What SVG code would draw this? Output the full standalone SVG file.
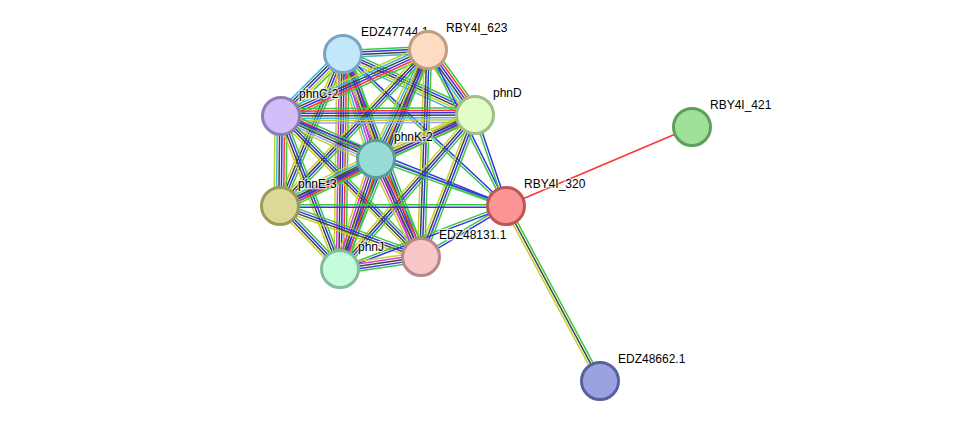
<svg xmlns="http://www.w3.org/2000/svg" width="976" height="427" viewBox="0 0 976 427">
<style>
#edges path{fill:none;stroke-width:1.5}
.g{stroke:#3cc83c}.b{stroke:#3434ea}.k{stroke:#444}.y{stroke:#c4d22e}.r{stroke:#ff3535}.m{stroke:#d63ad6}.c{stroke:#3ab8d8}.l{stroke:#a0a0ff}
.n circle{stroke-width:3}
.n text{font-family:"Liberation Sans",Arial,sans-serif;font-size:12px;fill:#000;stroke:#fff;stroke-width:2.5;stroke-opacity:0.7;paint-order:stroke}
</style>
<rect width="976" height="427" fill="#fff"/>
<g id="edges">
<!-- A-B -->
<g transform="translate(343 54) rotate(-2.69)"><path class="g" d="M0-3.6H85"/><path class="b" d="M0-1.2H85"/><path class="k" d="M0 1.2H85"/><path class="c" d="M0 3.6H85"/></g>
<!-- A-C -->
<g transform="translate(343 54) rotate(135)"><path class="g" d="M0-4.8H88"/><path class="y" d="M0-2.4H88"/><path class="b" d="M0 0H88"/><path class="k" d="M0 2.4H88"/><path class="c" d="M0 4.8H88"/></g>
<!-- A-D -->
<g transform="translate(343 54) rotate(24.8)"><path class="g" d="M0-4.8H145"/><path class="b" d="M0-2.4H145"/><path class="k" d="M0 0H145"/><path class="y" d="M0 2.4H145"/><path class="c" d="M0 4.8H145"/></g>
<!-- A-K -->
<g transform="translate(343 54) rotate(72.55)"><path class="g" d="M0-7.2H110"/><path class="r" d="M0-4.8H110"/><path class="b" d="M0-2.4H110"/><path class="k" d="M0 0H110"/><path class="m" d="M0 2.4H110"/><path class="c" d="M0 4.8H110"/><path class="y" d="M0 7.2H110"/></g>
<!-- A-E -->
<g transform="translate(343 54) rotate(112.51)"><path class="g" d="M0-3.6H164"/><path class="b" d="M0-1.2H164"/><path class="k" d="M0 1.2H164"/><path class="y" d="M0 3.6H164"/></g>
<!-- A-R -->
<g transform="translate(343 54) rotate(43)"><path class="b" d="M0-1.2H223"/><path class="g" d="M0 1.2H223"/></g>
<!-- A-X -->
<g transform="translate(343 54) rotate(68.98)"><path class="g" d="M0-4.8H217"/><path class="b" d="M0-2.4H217"/><path class="k" d="M0 0H217"/><path class="y" d="M0 2.4H217"/><path class="m" d="M0 4.8H217"/></g>
<!-- A-J -->
<g transform="translate(343 54) rotate(90.8)"><path class="g" d="M0-6H215"/><path class="r" d="M0-3.6H215"/><path class="b" d="M0-1.2H215"/><path class="k" d="M0 1.2H215"/><path class="m" d="M0 3.6H215"/><path class="y" d="M0 6H215"/></g>
<!-- B-C -->
<g transform="translate(428 50) rotate(155.82)"><path class="g" d="M0-6H161"/><path class="r" d="M0-3.6H161"/><path class="b" d="M0-1.2H161"/><path class="k" d="M0 1.2H161"/><path class="c" d="M0 3.6H161"/><path class="y" d="M0 6H161"/></g>
<!-- B-D -->
<g transform="translate(428 50) rotate(54.13)"><path class="g" d="M0-6H80"/><path class="r" d="M0-3.6H80"/><path class="b" d="M0-1.2H80"/><path class="k" d="M0 1.2H80"/><path class="c" d="M0 3.6H80"/><path class="y" d="M0 6H80"/></g>
<!-- B-K -->
<g transform="translate(428 50) rotate(115.5)"><path class="g" d="M0-6H121"/><path class="r" d="M0-3.6H121"/><path class="b" d="M0-1.2H121"/><path class="k" d="M0 1.2H121"/><path class="c" d="M0 3.6H121"/><path class="y" d="M0 6H121"/></g>
<!-- B-E -->
<g transform="translate(428 50) rotate(133.5)"><path class="g" d="M0-3.6H215"/><path class="b" d="M0-1.2H215"/><path class="k" d="M0 1.2H215"/><path class="y" d="M0 3.6H215"/></g>
<!-- B-R -->
<g transform="translate(428 50) rotate(63.43)"><path class="b" d="M0-1.2H174"/><path class="g" d="M0 1.2H174"/></g>
<!-- B-X -->
<g transform="translate(428 50) rotate(91.94)"><path class="g" d="M0-3.6H207"/><path class="b" d="M0-1.2H207"/><path class="k" d="M0 1.2H207"/><path class="y" d="M0 3.6H207"/></g>
<!-- B-J -->
<g transform="translate(428 50) rotate(111.9)"><path class="g" d="M0-3.6H236"/><path class="b" d="M0-1.2H236"/><path class="k" d="M0 1.2H236"/><path class="y" d="M0 3.6H236"/></g>
<!-- C-D -->
<g transform="translate(281 116) rotate(-0.3)"><path class="g" d="M0-7.2H194"/><path class="r" d="M0-4.8H194"/><path class="b" d="M0-2.4H194"/><path class="k" d="M0 0H194"/><path class="c" d="M0 2.4H194"/><path class="y" d="M0 4.8H194"/><path class="l" d="M0 7.2H194"/></g>
<!-- C-K -->
<g transform="translate(281 116) rotate(24.35)"><path class="g" d="M0-6H104"/><path class="r" d="M0-3.6H104"/><path class="b" d="M0-1.2H104"/><path class="k" d="M0 1.2H104"/><path class="l" d="M0 3.6H104"/><path class="y" d="M0 6H104"/></g>
<!-- C-E -->
<g transform="translate(281 116) rotate(90.64)"><path class="g" d="M0-6H90"/><path class="r" d="M0-3.6H90"/><path class="b" d="M0-1.2H90"/><path class="k" d="M0 1.2H90"/><path class="c" d="M0 3.6H90"/><path class="y" d="M0 6H90"/></g>
<!-- C-R -->
<g transform="translate(281 116) rotate(21.8)"><path class="b" d="M0-1.2H242"/><path class="g" d="M0 1.2H242"/></g>
<!-- C-X -->
<g transform="translate(281 116) rotate(45.2)"><path class="g" d="M0-3.6H199"/><path class="b" d="M0-1.2H199"/><path class="k" d="M0 1.2H199"/><path class="y" d="M0 3.6H199"/></g>
<!-- C-J -->
<g transform="translate(281 116) rotate(68.91)"><path class="g" d="M0-3.6H164"/><path class="b" d="M0-1.2H164"/><path class="k" d="M0 1.2H164"/><path class="y" d="M0 3.6H164"/></g>
<!-- D-K -->
<g transform="translate(475 115) rotate(156.04)"><path class="g" d="M0-4.8H108"/><path class="r" d="M0-2.4H108"/><path class="b" d="M0 0H108"/><path class="k" d="M0 2.4H108"/><path class="y" d="M0 4.8H108"/></g>
<!-- D-E -->
<g transform="translate(475 115) rotate(154.98)"><path class="g" d="M0-3.6H215"/><path class="b" d="M0-1.2H215"/><path class="k" d="M0 1.2H215"/><path class="y" d="M0 3.6H215"/></g>
<!-- D-R -->
<g transform="translate(475 115) rotate(71.19)"><path class="b" d="M0-1.2H96"/><path class="g" d="M0 1.2H96"/></g>
<!-- D-X -->
<g transform="translate(475 115) rotate(110.82)"><path class="g" d="M0-3.6H152"/><path class="b" d="M0-1.2H152"/><path class="k" d="M0 1.2H152"/><path class="y" d="M0 3.6H152"/></g>
<!-- D-J -->
<g transform="translate(475 115) rotate(131.24)"><path class="g" d="M0-3.6H205"/><path class="b" d="M0-1.2H205"/><path class="k" d="M0 1.2H205"/><path class="y" d="M0 3.6H205"/></g>
<!-- K-E -->
<g transform="translate(376 159) rotate(153.91)"><path class="g" d="M0-6H107"/><path class="r" d="M0-3.6H107"/><path class="b" d="M0-1.2H107"/><path class="k" d="M0 1.2H107"/><path class="c" d="M0 3.6H107"/><path class="y" d="M0 6H107"/></g>
<!-- K-R -->
<g transform="translate(376 159) rotate(19.88)"><path class="b" d="M0-1.2H138"/><path class="g" d="M0 1.2H138"/></g>
<!-- K-X -->
<g transform="translate(376 159) rotate(65.34)"><path class="g" d="M0-6H108"/><path class="r" d="M0-3.6H108"/><path class="b" d="M0-1.2H108"/><path class="k" d="M0 1.2H108"/><path class="m" d="M0 3.6H108"/><path class="y" d="M0 6H108"/></g>
<!-- K-J -->
<g transform="translate(376 159) rotate(108.12)"><path class="g" d="M0-6H116"/><path class="r" d="M0-3.6H116"/><path class="b" d="M0-1.2H116"/><path class="k" d="M0 1.2H116"/><path class="m" d="M0 3.6H116"/><path class="y" d="M0 6H116"/></g>
<!-- E-R -->
<g transform="translate(280 206)"><path class="g" d="M0-1.2H226"/><path class="b" d="M0 1.2H226"/></g>
<!-- E-X -->
<g transform="translate(280 206) rotate(19.88)"><path class="g" d="M0-3.6H150"/><path class="b" d="M0-1.2H150"/><path class="k" d="M0 1.2H150"/><path class="y" d="M0 3.6H150"/></g>
<!-- E-J -->
<g transform="translate(280 206) rotate(46.4)"><path class="g" d="M0-3.6H87"/><path class="b" d="M0-1.2H87"/><path class="k" d="M0 1.2H87"/><path class="y" d="M0 3.6H87"/></g>
<!-- R-X -->
<g transform="translate(506 206) rotate(149.04)"><path class="b" d="M0-1.2H99"/><path class="g" d="M0 1.2H99"/></g>
<!-- R-J -->
<g transform="translate(506 206) rotate(159.22)"><path class="b" d="M0-1.2H178"/><path class="g" d="M0 1.2H178"/></g>
<!-- X-J -->
<g transform="translate(421 257) rotate(171.57)"><path class="g" d="M0-4.8H82"/><path class="b" d="M0-2.4H82"/><path class="k" d="M0 0H82"/><path class="m" d="M0 2.4H82"/><path class="y" d="M0 4.8H82"/></g>
<!-- R-M -->
<path class="r" d="M506 206L692 127"/>
<!-- R-N -->
<g transform="translate(506 206) rotate(61.76)"><path class="g" d="M0-2.4H199"/><path class="k" d="M0 0H199"/><path class="y" d="M0 2.4H199"/></g>
</g>
<g id="node-EDZ47744.1" class="n"><circle cx="343" cy="54" r="18.5" fill="#c2e7fb" stroke="#7ba4c1"/><text x="361" y="36">EDZ47744.1</text></g>
<g id="node-RBY4I_623" class="n"><circle cx="428" cy="50" r="18.5" fill="#fddcc1" stroke="#bf9e82"/><text x="446" y="32">RBY4I_623</text></g>
<g id="node-phnC-2" class="n"><circle cx="281" cy="116" r="18.5" fill="#d2bef8" stroke="#8f7db8"/><text x="299" y="98">phnC-2</text></g>
<g id="node-phnD" class="n"><circle cx="475" cy="115" r="18.5" fill="#e1fcc5" stroke="#a2bd87"/><text x="493" y="97">phnD</text></g>
<g id="node-phnK-2" class="n"><circle cx="376" cy="159" r="18.5" fill="#99dcd5" stroke="#5b9e97"/><text x="394" y="141">phnK-2</text></g>
<g id="node-phnE-3" class="n"><circle cx="280" cy="206" r="18.5" fill="#dcd998" stroke="#9c9a58"/><text x="298" y="188">phnE-3</text></g>
<g id="node-RBY4I_320" class="n"><circle cx="506" cy="206" r="18.5" fill="#fc9696" stroke="#bf5656"/><text x="524" y="188">RBY4I_320</text></g>
<g id="node-EDZ48131.1" class="n"><circle cx="421" cy="257" r="18.5" fill="#f7c7c7" stroke="#b98787"/><text x="439" y="239">EDZ48131.1</text></g>
<g id="node-phnJ" class="n"><circle cx="340" cy="269" r="18.5" fill="#c5fcdc" stroke="#85bc9c"/><text x="358" y="251">phnJ</text></g>
<g id="node-RBY4I_421" class="n"><circle cx="692" cy="127" r="18.5" fill="#a0e19a" stroke="#5f9f59"/><text x="710" y="109">RBY4I_421</text></g>
<g id="node-EDZ48662.1" class="n"><circle cx="600" cy="381" r="18.5" fill="#9aa3de" stroke="#59629e"/><text x="618" y="363">EDZ48662.1</text></g>
</svg>
